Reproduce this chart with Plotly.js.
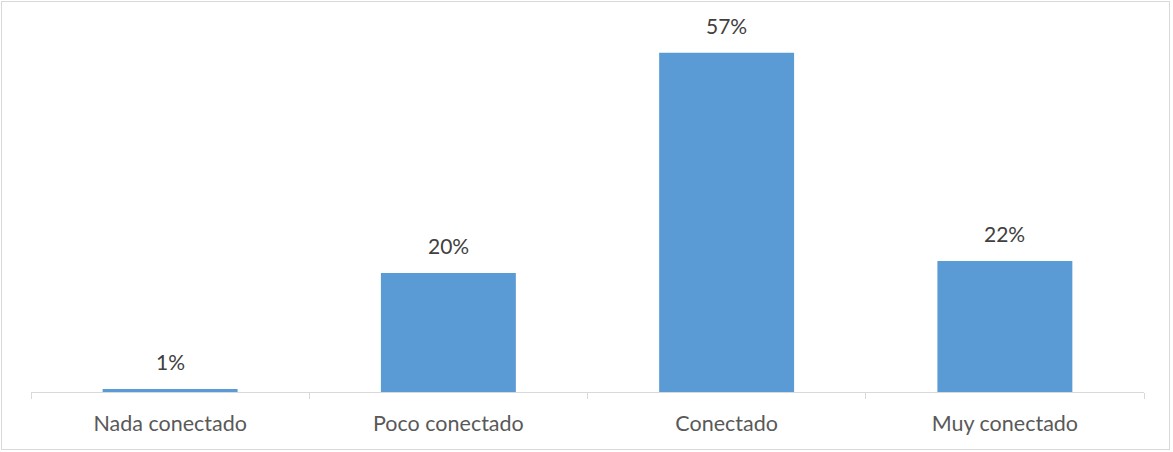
<!DOCTYPE html>
<html>
<head>
<meta charset="utf-8">
<script src="https://cdn.plot.ly/plotly-3.0.1.min.js"></script>
<style>
html,body{margin:0;padding:0;background:#fff;}
#wrap{position:relative;width:1173px;height:452px;}
#chart{position:absolute;left:0;top:0;width:1173px;height:452px;}
#frame{position:absolute;left:1px;top:1px;width:1167px;height:447px;border:1px solid #d9d9d9;pointer-events:none;}
</style>
</head>
<body>
<div id="wrap"><div id="chart"></div><div id="frame"></div></div>
<script>
var categories = ["Nada conectado", "Poco conectado", "Conectado", "Muy conectado"];
var values = [0.5, 20, 57, 22];
var valueLabels = ["1%", "20%", "57%", "22%"];

var FONT = "Lato, 'Open Sans', sans-serif";

var trace = {
  type: "bar",
  x: categories,
  y: values,
  marker: {color: "#5b9bd5"},
  hoverinfo: "skip"
};

var annotations = categories.map(function (c, i) {
  return {
    x: c,
    y: values[i],
    xref: "x",
    yref: "y",
    text: valueLabels[i],
    showarrow: false,
    yanchor: "bottom",
    yshift: 13,
    font: {family: FONT, size: 21, color: "#404040"}
  };
});

var layout = {
  width: 1173,
  height: 452,
  margin: {l: 31, r: 29, t: 35, b: 60},
  paper_bgcolor: "#ffffff",
  plot_bgcolor: "#ffffff",
  bargap: 0.515,
  showlegend: false,
  font: {family: FONT, size: 21, color: "#595959"},
  annotations: annotations,
  xaxis: {
    showline: true,
    linecolor: "#d9d9d9",
    linewidth: 1,
    ticks: "outside",
    tickson: "boundaries",
    ticklen: 6,
    tickcolor: "#d9d9d9",
    tickwidth: 1,
    showgrid: false,
    tickfont: {family: FONT, size: 21.5, color: "#595959"},
    ticklabelstandoff: 12,
    fixedrange: true
  },
  yaxis: {
    range: [0, 60],
    visible: false,
    showgrid: false,
    zeroline: false,
    fixedrange: true
  }
};

Plotly.newPlot("chart", [trace], layout, {displayModeBar: false, staticPlot: true});
</script>
</body>
</html>
